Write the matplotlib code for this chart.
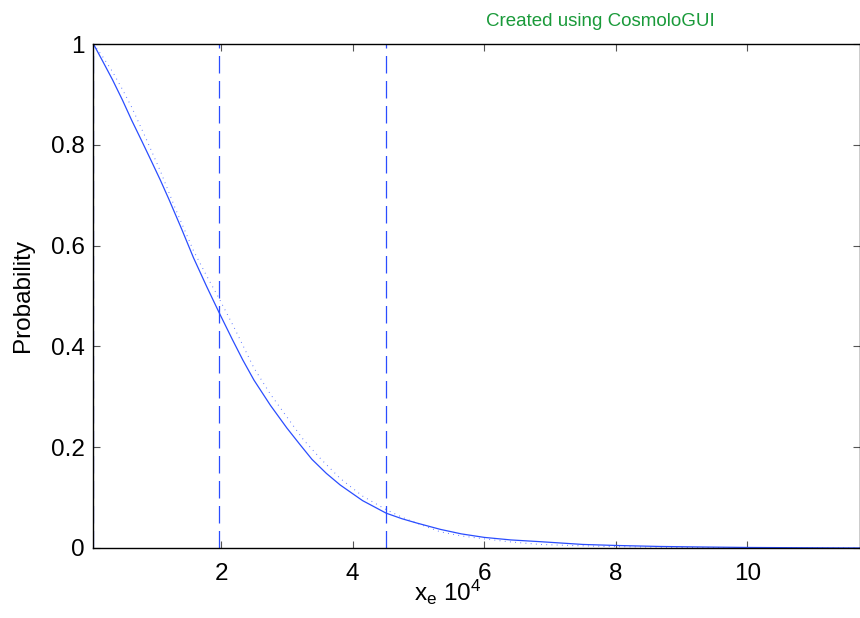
import numpy as np
import matplotlib
matplotlib.use("Agg")
import matplotlib.pyplot as plt

plt.rcParams['font.family'] = ['Liberation Sans', 'DejaVu Sans']
plt.rcParams['mathtext.fontset'] = 'custom'
plt.rcParams['mathtext.rm'] = 'Liberation Sans'
plt.rcParams['mathtext.it'] = 'Liberation Sans'

# solid curve
solid_x = [0.06, 0.20, 0.35, 0.50, 0.64, 0.80, 0.95, 1.08, 1.21, 1.40, 1.58, 1.78,
           1.97, 2.17, 2.33, 2.50, 2.75, 3.00, 3.20, 3.38, 3.60, 3.81, 4.15, 4.51,
           4.75, 4.96, 5.33, 5.65, 6.00, 6.40, 6.85, 7.50, 8.00, 8.67, 9.30, 10.0,
           10.8, 11.7]
solid_y = [1.000, 0.966, 0.929, 0.889, 0.849, 0.806, 0.765, 0.729, 0.691, 0.633, 0.576, 0.519,
           0.467, 0.414, 0.373, 0.333, 0.283, 0.238, 0.205, 0.176, 0.148, 0.125, 0.094, 0.069,
           0.058, 0.050, 0.037, 0.028, 0.021, 0.016, 0.0125, 0.007, 0.005, 0.003, 0.002, 0.001,
           0.0005, 0.0]

# dotted curve
dot_x = [0.06, 0.20, 0.35, 0.50, 0.64, 0.85, 1.08, 1.30, 1.58, 1.78, 1.97, 2.20,
         2.50, 2.75, 3.00, 3.25, 3.52, 3.81, 4.15, 4.51, 4.75, 4.96, 5.33, 5.65,
         6.00, 6.40, 6.85, 7.30, 7.86, 9.00, 10.0, 11.7]
dot_y = [1.000, 0.975, 0.945, 0.910, 0.875, 0.815, 0.747, 0.675, 0.590, 0.540, 0.495, 0.437,
         0.357, 0.305, 0.260, 0.215, 0.176, 0.138, 0.103, 0.076, 0.061, 0.050, 0.032, 0.024,
         0.018, 0.012, 0.007, 0.005, 0.003, 0.001, 0.0003, 0.0]

# dashed vertical markers
vline_x = [0.06, 1.97, 4.51]

x_ticks = [2, 4, 6, 8, 10]
y_ticks = [0, 0.2, 0.4, 0.6, 0.8, 1]
y_labels = ['0', '0.2', '0.4', '0.6', '0.8', '1']

blue = '#2a4dff'

fig = plt.figure(figsize=(8.6, 6.18), dpi=100)
ax = fig.add_axes([0.1085, 0.1133, 0.8915, 0.8155])

ax.plot(dot_x, dot_y, color=blue, lw=0.75, linestyle=(0, (0.8, 4.2)), alpha=0.8)
ax.plot(solid_x, solid_y, color=blue, lw=0.9)
for xv in vline_x:
    ax.axvline(xv, color=blue, lw=0.9, linestyle=(0, (14, 6)))

ax.set_xlim(0.058, 11.71)
ax.set_ylim(0, 1)
ax.set_xticks(x_ticks)
ax.set_yticks(y_ticks)
ax.set_yticklabels(y_labels)

ax.tick_params(direction='in', length=5, width=0.8, color='#555555',
               top=True, right=True, labelsize=17.5)
ax.tick_params(axis='x', pad=11)
ax.tick_params(axis='y', pad=6)
for s in ax.spines.values():
    s.set_linewidth(1.0)

ax.set_ylabel('Probability', fontsize=17.5)
ax.yaxis.set_label_coords(-0.078, 0.5)
ax.set_xlabel(r'x$_\mathregular{e}$ 10$^\mathregular{4}$', fontsize=17.5)
ax.xaxis.set_label_coords(0.462, -0.06)

fig.text(0.698, 0.966, 'Created using CosmoloGUI', color='#1a9a3a',
         fontsize=13.5, ha='center', va='center')

fig.savefig('out.png', dpi=100)
